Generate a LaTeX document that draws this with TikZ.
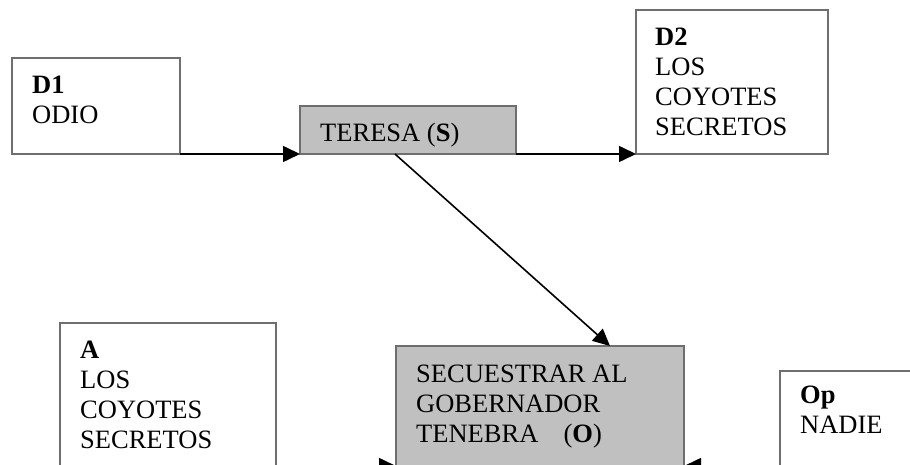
\documentclass[tikz,border=0pt]{standalone}
\usepackage{fontspec}
\setmainfont{Liberation Serif}
\usepackage{tikz}
\usetikzlibrary{arrows.meta}
\usepackage{xcolor}
\definecolor{boxgray}{RGB}{192,192,192}
\definecolor{rimgray}{RGB}{110,110,110}

\begin{document}
\begin{tikzpicture}[x=1pt,y=-1pt,>={Triangle[length=17pt,width=16pt]},
  font=\fontsize{26.5}{30}\selectfont,
  box/.style={draw=rimgray,line width=1.3pt,anchor=north west,inner sep=0pt,outer sep=0pt},
  shaded/.style={box,fill=boxgray},
  txt/.style={anchor=north west,align=left,inner sep=0pt},
  link/.style={->,line width=1.6pt,black}]
\useasboundingbox (0,0) rectangle (910,465);
\fill[white] (0,0) rectangle (910,465);
\clip (0,0) rectangle (910,465);
% boxes
\node[box,minimum width=168pt,minimum height=96pt] (d1) at (12,58) {};
\node[shaded,minimum width=216pt,minimum height=48pt] (ter) at (300,106) {};
\node[box,minimum width=192pt,minimum height=144pt] (d2) at (636,10) {};
\node[box,minimum width=216pt,minimum height=286pt] (a) at (60,323) {};
\node[shaded,minimum width=288pt,minimum height=240pt] (sec) at (396,346) {};
\node[box,minimum width=200pt,minimum height=190pt] (op) at (780,371) {};
% texts
\node[txt] (d1t) at ([shift={(20,14)}]d1.north west) {\strut\textbf{D1}\\ODIO};
\node[txt] (tert) at ([shift={(20,14)}]ter.north west) {\strut TERESA (\textbf{S})};
\node[txt] (d2t) at ([shift={(19,14)}]d2.north west) {\strut\textbf{D2}\\LOS\\COYOTES\\SECRETOS};
\node[txt] (at) at ([shift={(20,14)}]a.north west) {\strut\textbf{A}\\LOS\\COYOTES\\SECRETOS};
\node[txt] (sect) at ([shift={(20,15)}]sec.north west) {\strut SECUESTRAR AL\\GOBERNADOR\\TENEBRA\hspace{0.95em}(\textbf{O})};
\node[txt] (opt) at ([shift={(20,11)}]op.north west) {\strut\textbf{Op}\\NADIE};
% arrows
\draw[link] (d1.south east) -- (ter.south west);
\draw[link] (ter.south east) -- (d2.south west);
\draw[link] ([xshift=95pt]ter.south west) -- ([xshift=214pt]sec.north west);
\draw[link] (a.east) -- (sec.west);
\draw[link] (op.west) -- (sec.east);
\end{tikzpicture}
\end{document}
